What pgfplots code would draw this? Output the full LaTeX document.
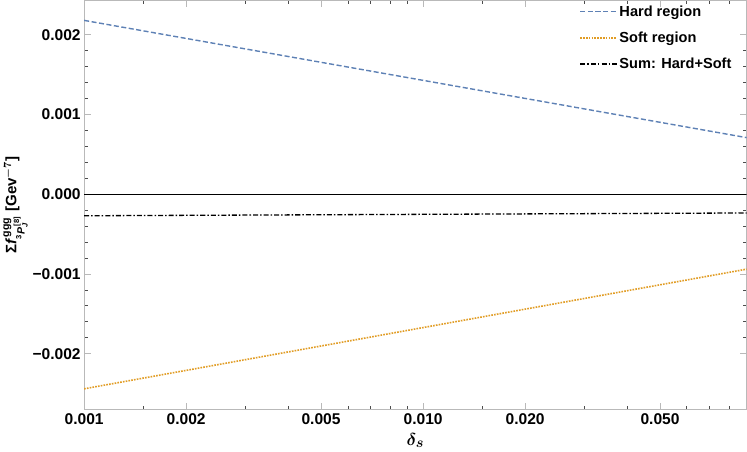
\documentclass[border=0pt]{standalone}
\usepackage{pgfplots}
\pgfplotsset{compat=1.18}
\usepackage{amsmath}
\usepackage{fontspec}
\setmainfont{Liberation Sans}
\definecolor{hardblue}{RGB}{94,129,181}
\definecolor{softorange}{RGB}{225,156,36}
\definecolor{framegray}{RGB}{185,185,185}

\begin{document}
\begin{tikzpicture}
\begin{axis}[
    xmode=log,
    scale only axis,
    width=659pt,
    height=407pt,
    xmin=0.001, xmax=0.09,
    ymin=-0.0027, ymax=0.00243,
    scaled y ticks=false,
    xtick={0.001,0.002,0.005,0.01,0.02,0.05},
    xticklabels={0.001,0.002,0.005,0.010,0.020,0.050},
    minor xtick={0.0015,0.003,0.004,0.006,0.007,0.008,0.009,0.015,0.03,0.04,0.06,0.07,0.08},
    ytick={-0.002,-0.001,0,0.001,0.002},
    yticklabels={−0.002,−0.001,0.000,0.001,0.002},
    minor y tick num=4,
    tick align=inside,
    major tick length=7pt,
    minor tick length=3.5pt,
    every major tick/.append style={framegray, line width=0.8pt},
    every minor tick/.append style={black!70, line width=0.8pt},
    axis line style={framegray, line width=0.9pt},
    tick label style={font=\fontsize{15.5}{18}\selectfont\bfseries},
    xticklabel style={yshift=-1pt},
    xlabel={$\delta_s$},
    ylabel={$\text{Σ}\textit{f}^{\,\text{ggg}}_{{}^{\text{3}}\textit{P}_{\textit{J}}^{\,\text{[8]}}}$ [Gev$^{-7}$]},
    label style={font=\fontsize{15}{18}\selectfont\bfseries\boldmath},
    xlabel style={font=\fontsize{19}{22}\selectfont\boldmath, yshift=-1pt},
    ylabel style={yshift=-2pt},
    legend style={draw=none, fill=none, at={(0.985,0.998)}, anchor=north east,
        font=\fontsize{14.5}{17}\selectfont\bfseries, row sep=10pt},
    legend cell align=left,
    legend image code/.code={\draw[#1, line width=1.8pt] (0pt,0pt) -- (36pt,0pt);},
]
\addplot[hardblue, line width=1.4pt, dash pattern=on 5pt off 2.5pt] coordinates {
    (0.001, 0.00218) (0.01, 0.001428) (0.09, 0.00071)
};
\addlegendentry{Hard region}
\addplot[softorange, line width=1.6pt, dash pattern=on 1.6pt off 1.2pt] coordinates {
    (0.001, -0.00244) (0.01, -0.001672) (0.09, -0.00094)
};
\addlegendentry{Soft region}
\addplot[black, line width=1.3pt, dash pattern=on 5pt off 2pt on 1.5pt off 2pt] coordinates {
    (0.001, -0.00027) (0.01, -0.000252) (0.09, -0.000235)
};
\addlegendentry{Sum: Hard+Soft}
\addplot[black, line width=0.5pt, forget plot] coordinates {(0.001, 0) (0.09, 0)};
\end{axis}
\end{tikzpicture}
\end{document}
